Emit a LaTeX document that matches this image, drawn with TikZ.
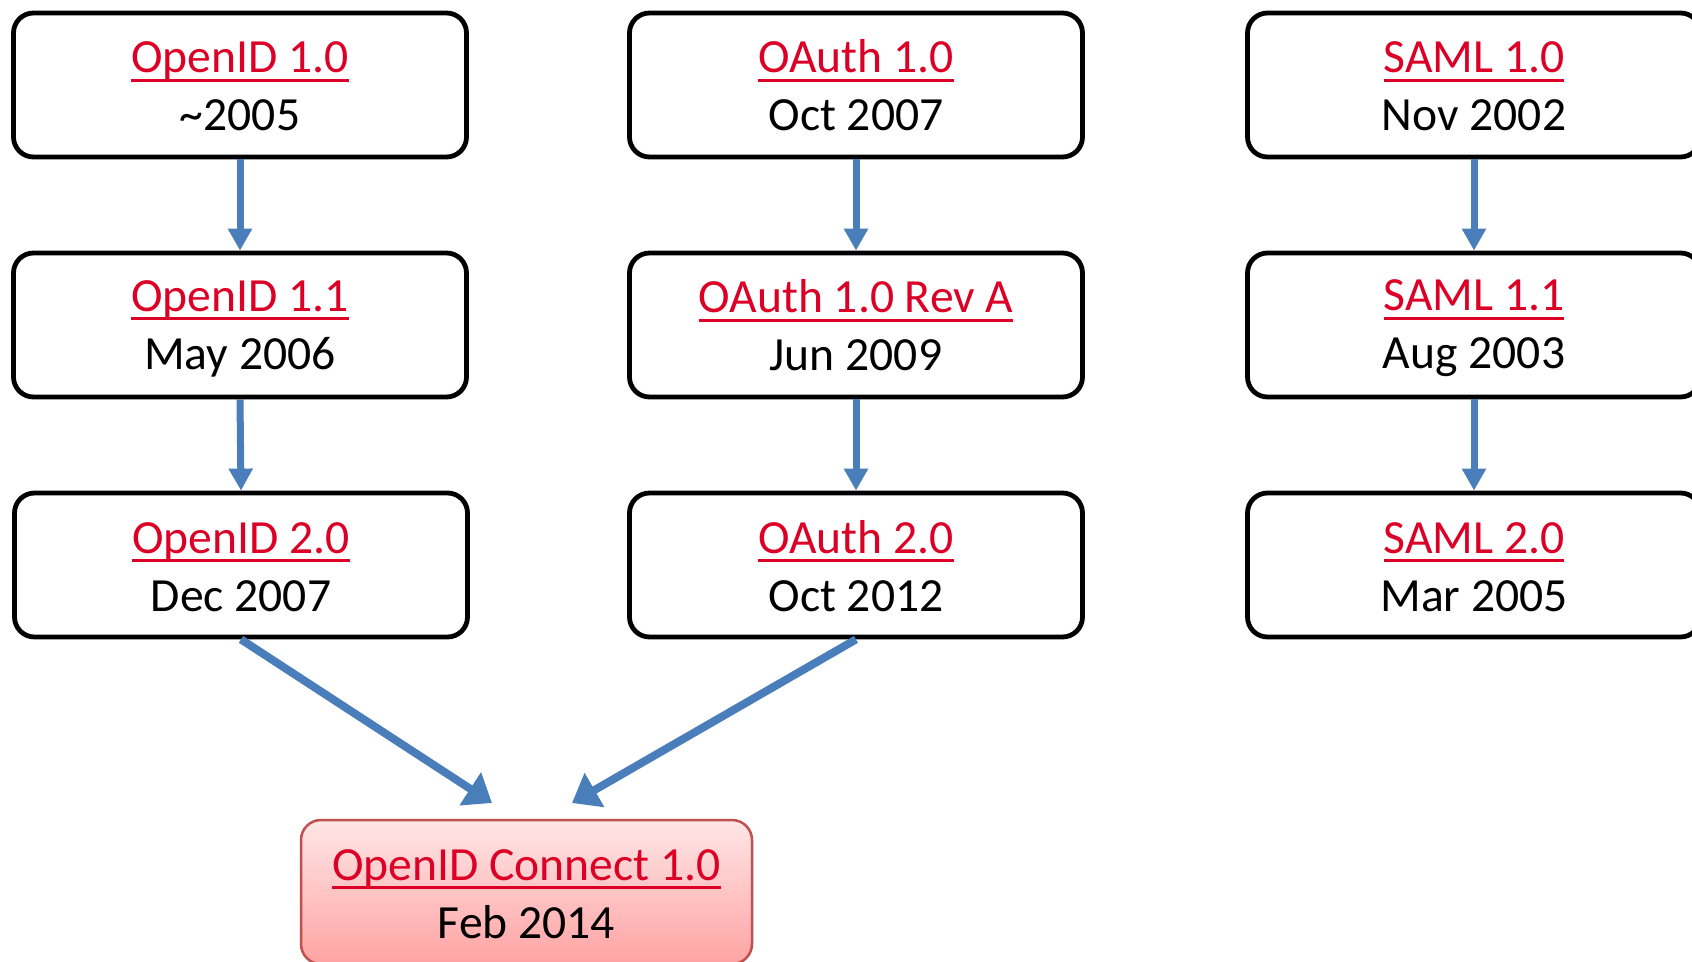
\documentclass[tikz,border=0pt]{standalone}
\usepackage{fontspec}
\setmainfont{Carlito}
\usetikzlibrary{arrows.meta}

\definecolor{linkred}{RGB}{221,0,38}
\definecolor{flowblue}{RGB}{74,126,187}
\definecolor{pinktop}{RGB}{255,230,230}
\definecolor{pinkbot}{RGB}{255,163,163}
\definecolor{pinkedge}{RGB}{192,80,77}

% underlined specification name
\newcommand\specname[1]{\setbox0\hbox{#1}\rlap{\rule[-4.3pt]{\wd0}{1.3pt}}\box0}
% two-line entry: name over release date, with fixed line heights
\newcommand\entry[2]{\rule{0pt}{19pt}\textcolor{linkred}{\specname{#1}}\\#2\rule[-2pt]{0pt}{2pt}}

\tikzset{
  stage/.style={draw=black, line width=2.4pt, rounded corners=10pt, fill=white,
    minimum width=226.5pt, minimum height=72pt, inner sep=0pt, align=center,
    font=\fontsize{23.8pt}{29pt}\selectfont},
  result/.style={stage, draw=pinkedge, line width=1.25pt, top color=pinktop,
    bottom color=pinkbot, minimum width=225.5pt},
  varrow/.style={draw=flowblue, line width=3.5pt, -{Triangle[length=11pt,width=11.5pt]}},
  darrow/.style={draw=flowblue, line width=4pt, -{Triangle[length=13pt,width=19pt]}},
}

\begin{document}
\begin{tikzpicture}[x=0.5pt,y=-0.5pt]
\useasboundingbox (0,0) rectangle (1692,962);
\clip (0,0) rectangle (1692,962);

% OpenID line
\node[stage] (oid10) at (240,85)  {\entry{OpenID 1.0}{\textasciitilde2005}};
\node[stage] (oid11) at (240,325) {\entry{OpenID 1.1}{May 2006}};
\node[stage] (oid20) at (241,565) {\entry{OpenID 2.0}{Dec 2007}};

% OAuth line
\node[stage] (oa10)  at (856,85)  {\entry{OAuth 1.0}{Oct 2007}};
\node[stage] (oa10a) at (856,325) {\entry{OAuth 1.0 Rev A}{Jun 2009}};
\node[stage] (oa20)  at (856,565) {\entry{OAuth 2.0}{Oct 2012}};

% SAML line
\node[stage] (saml10) at (1474,85)  {\entry{SAML 1.0}{Nov 2002}};
\node[stage] (saml11) at (1474,325) {\entry{SAML 1.1}{Aug 2003}};
\node[stage] (saml20) at (1474,565) {\entry{SAML 2.0}{Mar 2005}};

% combined result
\node[result] (oidc) at (526.5,892) {\entry{OpenID Connect 1.0}{Feb 2014}};

% succession arrows
\draw[varrow] (oid10.south) -- (oid11.north);
\draw[varrow] (oid11.south) -- (oid20.north);
\draw[varrow] (oa10.south) -- (oa10a.north);
\draw[varrow] (oa10a.south) -- (oa20.north);
\draw[varrow] (saml10.south) -- (saml11.north);
\draw[varrow] (saml11.south) -- (saml20.north);

% merge into OpenID Connect
\coordinate (tipL) at (492,803);
\coordinate (tipR) at (572,803);
\draw[darrow] (oid20.south) -- (tipL);
\draw[darrow] (oa20.south) -- (tipR);
\end{tikzpicture}
\end{document}
